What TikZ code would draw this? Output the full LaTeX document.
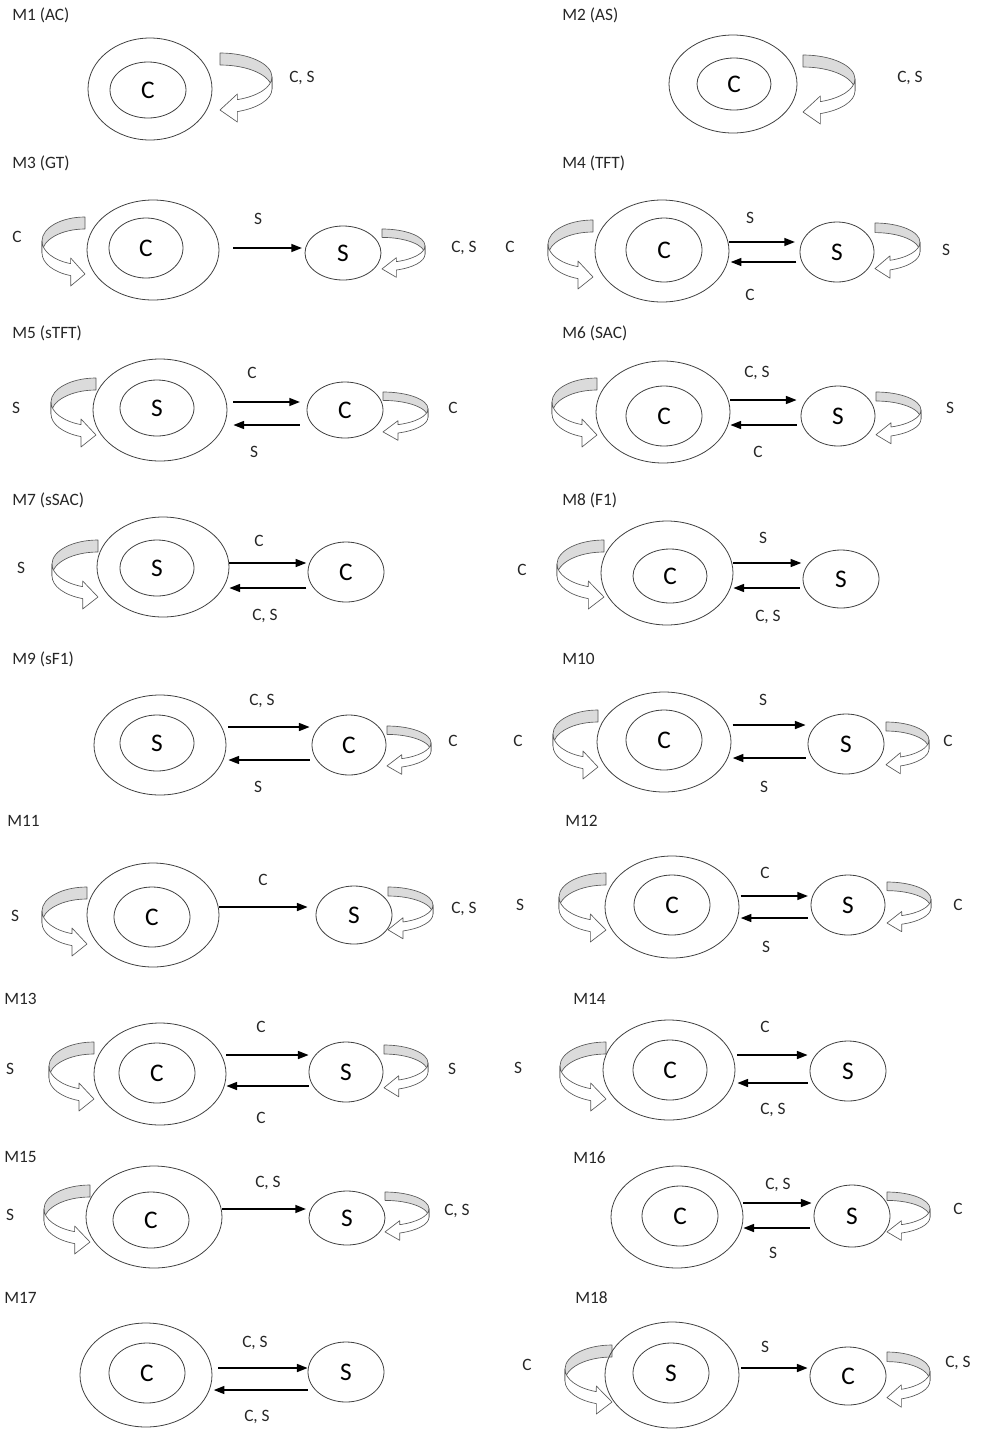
\documentclass[tikz,border=0pt]{standalone}
\usepackage{fontspec}
\setmainfont{Carlito}
\usetikzlibrary{shapes.geometric,arrows.meta,calc}
\tikzset{rib/.style={draw=black!65, line width=0.5pt, line join=round}}
\tikzset{pics/ribbon/.style={code={
    \path[rib, fill=black!14] (0,0) arc[start angle=270,end angle=360,x radius=48,y radius=24]
      -- (48,36) arc[start angle=0,end angle=-90,x radius=48,y radius=24] -- cycle;
    \path[rib, fill=white] (48,24) arc[start angle=0,end angle=70.5,x radius=48,y radius=24]
      -- (16,41) -- (0,57) -- (16,69) -- (16,58.6)
      arc[start angle=70.5,end angle=0,x radius=48,y radius=24] -- cycle;
  }}}
\tikzset{ell/.style={ellipse, draw=black!75, line width=0.6pt, inner sep=0pt, font=\fontsize{19}{22}\selectfont}}
\tikzset{lab/.style={font=\fontsize{13}{15}\selectfont, inner sep=0pt, text=black!85}}
\tikzset{ttl/.style={lab, anchor=west}}
\tikzset{arr/.style={line width=1.1pt, -{Triangle[length=8pt,width=6pt]}}}
\newcommand\ribR[4]{\path (#1,#2) pic[xscale=#3/48, yscale=#4] {ribbon};}
\newcommand\ribL[4]{\path (#1,#2) pic[xscale=-#3/48, yscale=#4] {ribbon};}
\newcommand\elln[6]{\node[ell, minimum width=#4*1.5pt, minimum height=#5*1.5pt] (#1) at (#2,#3) {#6};}
\begin{document}
\begin{tikzpicture}[x=0.75pt,y=-0.75pt]
\useasboundingbox (0,0) rectangle (985,1429);
% ---------- M1
\node[ttl] (t1) at (12,15) {M1 (AC)};
\ribR{220}{53}{52}{1}
\elln{o1}{150}{89}{62}{51}{}
\elln{i1}{148}{90}{38}{28}{C}
\node[lab] (r1) at (302,78) {C, S};
% ---------- M2
\node[ttl] (t2) at (562,15) {M2 (AS)};
\ribR{803}{55}{52}{1}
\elln{o2}{733}{84}{64}{49}{}
\elln{i2}{734}{84}{37}{26}{C}
\node[lab] (r2) at (910,78) {C, S};
% ---------- M3
\node[ttl] (t3) at (12,163) {M3 (GT)};
\ribL{85}{217}{43}{1}
\ribR{382}{229}{43}{0.7}
\elln{o3}{153}{250}{66}{50}{}
\elln{i3}{146}{248}{37}{30}{C}
\elln{s3}{343}{253}{38}{27}{S}
\draw[arr, shorten <=10.5pt, shorten >=2pt] (o3.east |- 0,248) -- (s3.west |- 0,248);
\node[lab] (a3) at (258,219) {S};
\node[lab] (l3) at (17,237) {C};
\node[lab] (r3) at (464,248) {C, S};
% ---------- M4
\node[ttl] (t4) at (562,163) {M4 (TFT)};
\ribL{593}{220}{45}{1}
\ribR{875}{223}{45}{0.8}
\elln{o4}{662}{251}{67}{51}{}
\elln{i4}{664}{250}{38}{32}{C}
\elln{s4}{837}{252}{37}{30}{S}
\draw[arr, shorten >=3.5pt] (o4.east |- 0,242) -- (s4.west |- 0,242);
\draw[arr, shorten <=2.5pt, shorten >=1pt] (s4.west |- 0,262) -- (o4.east |- 0,262);
\node[lab] (a4) at (750,218) {S};
\node[lab] (b4) at (750,295) {C};
\node[lab] (l4) at (510,247) {C};
\node[lab] (r4) at (946,250) {S};
% ---------- M5
\node[ttl] (t5) at (12,333) {M5 (sTFT)};
\ribL{96}{378}{45}{1}
\ribR{383}{392}{45}{0.7}
\elln{o5}{160}{410}{67}{51}{}
\elln{i5}{157}{408}{37}{28}{S}
\elln{s5}{345}{410}{38}{28}{C}
\draw[arr, shorten <=4.5pt, shorten >=5pt] (o5.east |- 0,402) -- (s5.west |- 0,402);
\draw[arr, shorten <=5pt, shorten >=4.5pt] (s5.west |- 0,425) -- (o5.east |- 0,425);
\node[lab] (a5) at (252,373) {C};
\node[lab] (b5) at (254,452) {S};
\node[lab] (l5) at (16,408) {S};
\node[lab] (r5) at (453,408) {C};
% ---------- M6
\node[ttl] (t6) at (562,333) {M6 (SAC)};
\ribL{597}{378}{45}{1}
\ribR{876}{392}{45}{0.75}
\elln{o6}{663}{412}{67}{51}{}
\elln{i6}{664}{416}{38}{30}{C}
\elln{s6}{838}{416}{37}{30}{S}
\draw[arr, shorten >=3pt] (o6.east |- 0,400) -- (s6.west |- 0,400);
\draw[arr, shorten <=3pt] (s6.west |- 0,425) -- (o6.east |- 0,425);
\node[lab] (a6) at (757,373) {C, S};
\node[lab] (b6) at (758,452) {C};
\node[lab] (r6) at (950,408) {S};
% ---------- M7
\node[ttl] (t7) at (12,500) {M7 (sSAC)};
\ribL{98}{540}{46}{1}
\elln{o7}{163}{567}{66}{50}{}
\elln{i7}{157}{568}{37}{28}{S}
\elln{s7}{346}{572}{38}{30}{C}
\draw[arr, shorten >=1pt] (o7.east |- 0,563) -- (s7.west |- 0,563);
\draw[arr, shorten <=1pt] (s7.west |- 0,588) -- (o7.east |- 0,588);
\node[lab] (a7) at (259,541) {C};
\node[lab] (b7) at (265,616) {C, S};
\node[lab] (l7) at (21,568) {S};
% ---------- M8
\node[ttl] (t8) at (562,500) {M8 (F1)};
\ribL{604}{540}{47}{1}
\elln{o8}{667}{573}{66}{52}{}
\elln{i8}{670}{576}{37}{27}{C}
\elln{s8}{841}{579}{38}{29}{S}
\draw[arr, shorten >=1pt] (o8.east |- 0,563) -- (s8.west |- 0,563);
\draw[arr, shorten <=2pt] (s8.west |- 0,588) -- (o8.east |- 0,588);
\node[lab] (a8) at (763,538) {S};
\node[lab] (b8) at (768,617) {C, S};
\node[lab] (l8) at (522,570) {C};
% ---------- M9
\node[ttl] (t9) at (12,659) {M9 (sF1)};
\ribR{387}{726}{44}{0.7}
\elln{o9}{160}{745}{66}{50}{}
\elln{i9}{157}{743}{37}{28}{S}
\elln{s9}{349}{745}{37}{30}{C}
\draw[arr, shorten <=1.5pt, shorten >=1.5pt] (o9.east |- 0,727) -- (s9.west |- 0,727);
\draw[arr, shorten <=1.5pt, shorten >=1.5pt] (s9.west |- 0,760) -- (o9.east |- 0,760);
\node[lab] (a9) at (262,701) {C, S};
\node[lab] (b9) at (258,787) {S};
\node[lab] (r9) at (453,741) {C};
% ---------- M10
\node[ttl] (t10) at (562,659) {M10};
\ribL{598}{710}{45}{1}
\ribR{886}{722}{43}{0.75}
\elln{o10}{664}{742}{67}{50}{}
\elln{i10}{664}{740}{38}{30}{C}
\elln{s10}{846}{744}{38}{30}{S}
\draw[arr, shorten <=1pt, shorten >=1.5pt] (o10.east |- 0,725) -- (s10.west |- 0,725);
\draw[arr, shorten <=1.5pt, shorten >=1pt] (s10.west |- 0,758) -- (o10.east |- 0,758);
\node[lab] (a10) at (763,700) {S};
\node[lab] (b10) at (764,787) {S};
\node[lab] (l10) at (518,741) {C};
\node[lab] (r10) at (948,741) {C};
% ---------- M11
\node[ttl] (t11) at (7,821) {M11};
\ribL{87}{887}{45}{1}
\ribR{388}{887}{45}{0.75}
\elln{o11}{153}{915}{66}{52}{}
\elln{i11}{152}{917}{38}{30}{C}
\elln{s11}{354}{915}{38}{29}{S}
\draw[arr, shorten >=6pt] (o11.east |- 0,907) -- (s11.west |- 0,907);
\node[lab] (a11) at (263,880) {C};
\node[lab] (l11) at (15,916) {S};
\node[lab] (r11) at (464,909) {C, S};
% ---------- M12
\node[ttl] (t12) at (565,821) {M12};
\ribL{606}{873}{47}{1}
\ribR{887}{882}{44}{0.72}
\elln{o12}{672}{907}{67}{51}{}
\elln{i12}{672}{905}{38}{30}{C}
\elln{s12}{848}{905}{37}{30}{S}
\draw[arr, shorten <=1pt, shorten >=2pt] (o12.east |- 0,896) -- (s12.west |- 0,896);
\draw[arr, shorten <=2pt, shorten >=1pt] (s12.west |- 0,918) -- (o12.east |- 0,918);
\node[lab] (a12) at (765,873) {C};
\node[lab] (b12) at (766,947) {S};
\node[lab] (l12) at (520,905) {S};
\node[lab] (r12) at (958,905) {C};
% ---------- M13
\node[ttl] (t13) at (4,999) {M13};
\ribL{94}{1042}{45}{1}
\ribR{384}{1045}{44}{0.75}
\elln{o13}{160}{1074}{66}{51}{}
\elln{i13}{157}{1073}{38}{30}{C}
\elln{s13}{346}{1072}{37}{30}{S}
\draw[arr] (o13.east |- 0,1055) -- (s13.west |- 0,1055);
\draw[arr] (s13.west |- 0,1086) -- (o13.east |- 0,1086);
\node[lab] (a13) at (261,1027) {C};
\node[lab] (b13) at (261,1118) {C};
\node[lab] (l13) at (10,1069) {S};
\node[lab] (r13) at (452,1069) {S};
% ---------- M14
\node[ttl] (t14) at (573,999) {M14};
\ribL{606}{1042}{46}{1}
\elln{o14}{669}{1070}{66}{50}{}
\elln{i14}{670}{1070}{37}{30}{C}
\elln{s14}{848}{1071}{38}{30}{S}
\draw[arr, shorten <=1.5pt, shorten >=1.5pt] (o14.east |- 0,1055) -- (s14.west |- 0,1055);
\draw[arr, shorten <=1.5pt, shorten >=1.5pt] (s14.west |- 0,1083) -- (o14.east |- 0,1083);
\node[lab] (a14) at (765,1027) {C};
\node[lab] (b14) at (773,1110) {C, S};
\node[lab] (l14) at (518,1068) {S};
% ---------- M15
\node[ttl] (t15) at (4,1157) {M15};
\ribL{90}{1185}{46}{1}
\ribR{385}{1192}{44}{0.7}
\elln{o15}{154}{1217}{68}{51}{}
\elln{i15}{151}{1220}{38}{28}{C}
\elln{s15}{347}{1218}{38}{27}{S}
\draw[arr, shorten >=2pt] (o15.east |- 0,1209) -- (s15.west |- 0,1209);
\node[lab] (a15) at (268,1183) {C, S};
\node[lab] (l15) at (10,1215) {S};
\node[lab] (r15) at (457,1211) {C, S};
% ---------- M16
\node[ttl] (t16) at (573,1158) {M16};
\ribR{887}{1192}{43}{0.7}
\elln{o16}{677}{1217}{66}{51}{}
\elln{i16}{680}{1216}{38}{30}{C}
\elln{s16}{852}{1216}{38}{31}{S}
\draw[arr, shorten >=1.5pt] (o16.east |- 0,1203) -- (s16.west |- 0,1203);
\draw[arr, shorten <=3pt] (s16.west |- 0,1228) -- (o16.east |- 0,1228);
\node[lab] (a16) at (778,1185) {C, S};
\node[lab] (b16) at (773,1253) {S};
\node[lab] (r16) at (958,1209) {C};
% ---------- M17
\node[ttl] (t17) at (4,1298) {M17};
\elln{o17}{146}{1375}{66}{52}{}
\elln{i17}{147}{1373}{38}{30}{C}
\elln{s17}{346}{1372}{38}{30}{S}
\draw[arr, shorten <=4.5pt] (o17.east |- 0,1368) -- (s17.west |- 0,1368);
\draw[arr, shorten >=1pt] (s17.west |- 0,1390) -- (o17.east |- 0,1390);
\node[lab] (a17) at (255,1343) {C, S};
\node[lab] (b17) at (257,1417) {C, S};
% ---------- M18
\node[ttl] (t18) at (575,1298) {M18};
\ribL{612}{1345}{47}{1}
\ribR{887}{1352}{43}{0.8}
\elln{o18}{672}{1375}{67}{53}{}
\elln{i18}{671}{1373}{38}{30}{S}
\elln{s18}{848}{1376}{38}{29}{C}
\draw[arr, shorten <=1.5pt, shorten >=1.5pt] (o18.east |- 0,1368) -- (s18.west |- 0,1368);
\node[lab] (a18) at (765,1347) {S};
\node[lab] (l18) at (527,1365) {C};
\node[lab] (r18) at (958,1363) {C, S};
\end{tikzpicture}
\end{document}
